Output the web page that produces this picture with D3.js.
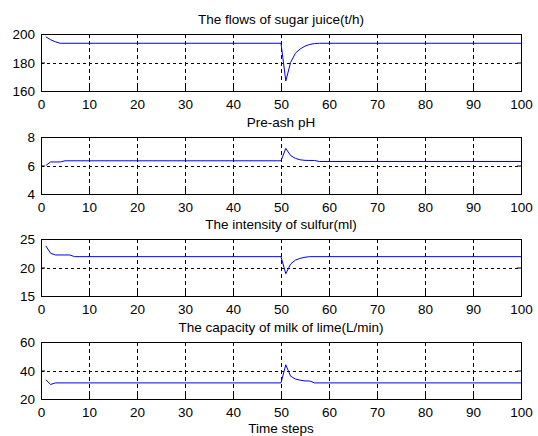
<!DOCTYPE html>
<html lang="en">
<head>
<meta charset="UTF-8">
<title>Sugar juice process</title>
<script src="https://d3js.org/d3.v7.min.js"></script>
<style type="text/css">
    body { margin: 0; background: #fff; }
    text { font-family: "Liberation Sans", Arial, sans-serif; font-size: 13.5px; fill: #000; }
</style>
</head>
<body>
<script type="text/javascript">

    const width = 538;
    const height = 436;

    // panel titles and y ranges
    const titles = ["The flows of sugar juice(t/h)", "Pre-ash pH",
                    "The intensity of sulfur(ml)", "The capacity of milk of lime(L/min)"];
    const yDomains = [[160, 200], [4, 8], [15, 25], [20, 60]];
    const yTicks = [[160, 180, 200], [4, 6, 8], [15, 20, 25], [20, 40, 60]];
    const xTicks = [0, 10, 20, 30, 40, 50, 60, 70, 80, 90, 100];

    // series (time step, value)
    const flowSteps   = [1, 2, 3, 4, 50, 51, 52, 53, 54, 55, 56, 57, 58, 100];
    const flowValues  = [198, 196, 194.5, 193.5, 193.5, 167, 180, 186.5, 189.5, 191.5, 192.7, 193.3, 193.5, 193.5];
    const phSteps     = [1, 2, 4, 5, 50, 51, 52, 53, 54, 55, 57, 58, 100];
    const phValues    = [6.0, 6.25, 6.25, 6.33, 6.33, 7.2, 6.7, 6.5, 6.4, 6.36, 6.35, 6.28, 6.28];
    const sulfurSteps = [1, 2, 3, 6, 7, 50, 51, 52, 53, 54, 55, 56, 100];
    const sulfurValues = [23.8, 22.5, 22.2, 22.2, 21.9, 21.9, 18.9, 20.6, 21.3, 21.6, 21.8, 21.9, 21.9];
    const limeSteps   = [1, 2, 3, 50, 51, 52, 53, 54, 55, 56, 57, 100];
    const limeValues  = [33.5, 30.2, 31.3, 31.3, 44, 36, 34, 33.2, 32.7, 32.6, 31.3, 31.3];

    const series = [
        [flowSteps, flowValues],
        [phSteps, phValues],
        [sulfurSteps, sulfurValues],
        [limeSteps, limeValues]
    ];

    const left = 41, right = 521;
    const tops = [34, 137, 239, 342];
    const panelH = 57;

    const svg = d3.select("body")
        .append("svg")
        .attr("width", width)
        .attr("height", height);

    const x = d3.scaleLinear().domain([0, 100]).range([left, right]);

    series.forEach((s, i) => {
        const top = tops[i];
        const bottom = top + panelH;
        const y = d3.scaleLinear().domain(yDomains[i]).range([bottom, top]);
        const g = svg.append("g");

        // grid
        g.selectAll(".vgrid")
            .data(xTicks.slice(1, -1))
            .enter().append("line")
            .attr("x1", d => Math.round(x(d)) + 0.5)
            .attr("x2", d => Math.round(x(d)) + 0.5)
            .attr("y1", top).attr("y2", bottom)
            .attr("stroke", "#000")
            .attr("stroke-dasharray", "4,3");
        g.selectAll(".hgrid")
            .data(yTicks[i].slice(1, -1))
            .enter().append("line")
            .attr("x1", left).attr("x2", right)
            .attr("y1", d => Math.round(y(d)) + 0.5)
            .attr("y2", d => Math.round(y(d)) + 0.5)
            .attr("stroke", "#000")
            .attr("stroke-dasharray", "3,3");

        // axes, ticks pointing inward
        g.append("g")
            .attr("transform", "translate(0," + bottom + ")")
            .call(d3.axisBottom(x).tickValues(xTicks).tickFormat(d3.format("d"))
                .tickSizeInner(-4).tickSizeOuter(0).tickPadding(8));
        const yAxis = g.append("g")
            .attr("transform", "translate(" + left + ",0)")
            .call(d3.axisLeft(y).tickValues(yTicks[i]).tickFormat(d3.format("d"))
                .tickSizeInner(-4).tickSizeOuter(0).tickPadding(6));
        g.append("g")
            .attr("transform", "translate(0," + top + ")")
            .call(d3.axisTop(x).tickValues(xTicks).tickSizeInner(-4).tickSizeOuter(0).tickFormat(""));
        g.append("g")
            .attr("transform", "translate(" + right + ",0)")
            .call(d3.axisRight(y).tickValues(yTicks[i]).tickSizeInner(-4).tickSizeOuter(0).tickFormat(""));
        g.selectAll(".domain").remove();
        g.selectAll(".tick text").attr("font-size", null).attr("font-family", null);
        yAxis.selectAll(".tick text").attr("dy", "0.36em");

        // box
        g.append("rect")
            .attr("x", left + 0.5).attr("y", top + 0.5)
            .attr("width", right - left).attr("height", panelH)
            .attr("fill", "none")
            .attr("stroke", "#000");

        // data line
        const pts = s[0].map((t, k) => [t, s[1][k]]);
        g.append("path")
            .datum(pts)
            .attr("fill", "none")
            .attr("stroke", "#0000ff")
            .attr("stroke-width", 1)
            .attr("d", d3.line().x(d => x(d[0])).y(d => y(d[1])));

        // title
        svg.append("text")
            .attr("x", (left + right) / 2)
            .attr("y", top - 10)
            .attr("text-anchor", "middle")
            .text(titles[i]);
    });

    svg.append("text")
        .attr("x", (left + right) / 2)
        .attr("y", 433)
        .attr("text-anchor", "middle")
        .text("Time steps");

</script>
</body>
</html>
